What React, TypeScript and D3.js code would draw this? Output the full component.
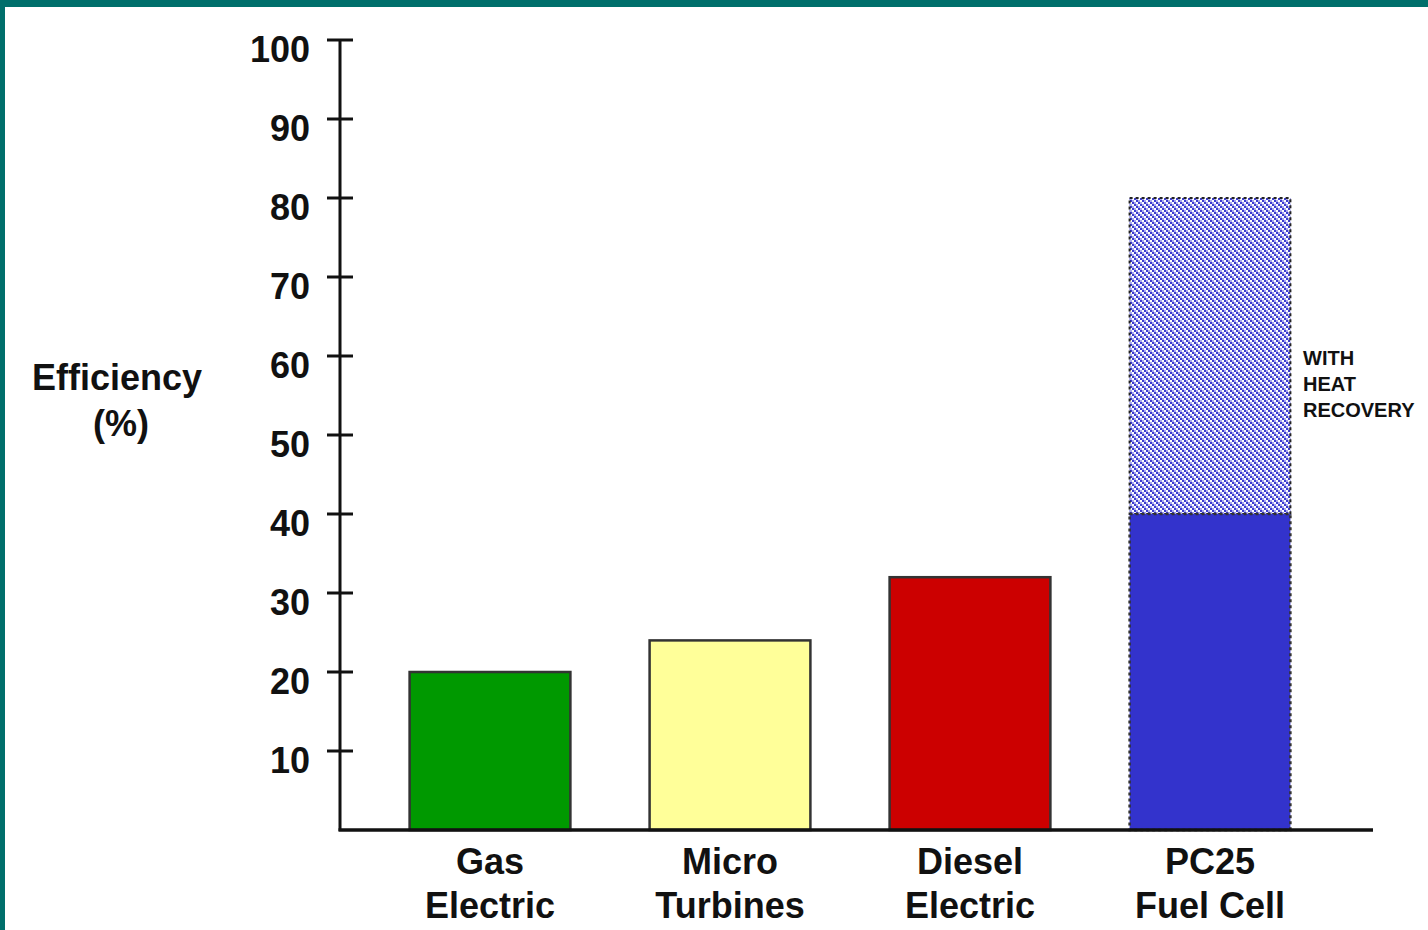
import React from "react";
import * as d3 from "d3";

const categories = ["Gas Electric", "Micro Turbines", "Diesel Electric", "PC25 Fuel Cell"];
const categoryLines = [["Gas", "Electric"], ["Micro", "Turbines"], ["Diesel", "Electric"], ["PC25", "Fuel Cell"]];
const efficiency = [20, 24, 32, 40];
const heatRecovery = [null, null, null, 80];
const barColors = ["#009900", "#ffff99", "#cc0000", "#3333cc"];
const yTicks = [10, 20, 30, 40, 50, 60, 70, 80, 90, 100];
const annotationLines = ["WITH", "HEAT", "RECOVERY"];
const hatchColors = ["#3c3cd0", "#a8a8ec", "#ffffff"];

const W = 1428;
const H = 930;
const FONT = "'Liberation Sans', Arial, sans-serif";

export default function App() {
  const y = d3.scaleLinear().domain([0, 100]).range([830, 40]);
  const x = d3
    .scaleBand<string>()
    .domain(categories)
    .range([370, 1330])
    .paddingInner(0.33)
    .paddingOuter(0.165);
  const axisX = 340;
  const cells: { i: number; j: number }[] = [];
  for (let i = 0; i < 3; i++) for (let j = 0; j < 3; j++) cells.push({ i, j });

  return (
    <svg
      width={W}
      height={H}
      style={{ position: "fixed", left: 0, top: 0, background: "#fff" }}
      fontFamily={FONT}
    >
      <defs>
        <pattern id="hatch" width="6" height="6" patternUnits="userSpaceOnUse">
          {cells.map(({ i, j }) => (
            <rect
              key={`${i}-${j}`}
              x={i * 2}
              y={j * 2}
              width={2}
              height={2}
              fill={hatchColors[(i - j + 3) % 3]}
            />
          ))}
        </pattern>
      </defs>
      <rect x={0} y={0} width={W} height={H} fill="#fff" />
      <rect x={0} y={0} width={W} height={7} fill="#006f6b" />
      <rect x={0} y={0} width={5} height={H} fill="#006f6b" />

      {/* bars */}
      {categories.map((c, i) => {
        const bx = x(c)!;
        const bw = x.bandwidth();
        const hr = heatRecovery[i];
        return (
          <g key={c}>
            {hr != null && (
              <rect
                x={bx}
                y={y(hr)}
                width={bw}
                height={y(efficiency[i]) - y(hr)}
                fill="url(#hatch)"
                stroke="#222"
                strokeWidth={2}
                strokeDasharray="3,3"
              />
            )}
            <rect
              x={bx}
              y={y(efficiency[i])}
              width={bw}
              height={y(0) - y(efficiency[i])}
              fill={barColors[i]}
              stroke="#333"
              strokeWidth={2.5}
              strokeDasharray={hr != null ? "3,3" : undefined}
            />
          </g>
        );
      })}

      {/* y axis */}
      <line x1={axisX} x2={axisX} y1={y(100)} y2={y(0) + 1} stroke="#111" strokeWidth={3} />
      {yTicks.map((t) => (
        <g key={t}>
          <line x1={axisX - 13} x2={axisX + 13} y1={y(t)} y2={y(t)} stroke="#111" strokeWidth={3} />
          <text
            x={310}
            y={y(t) + 9}
            textAnchor="end"
            dominantBaseline="central"
            fontSize={36}
            fontWeight="bold"
            fill="#111"
          >
            {t}
          </text>
        </g>
      ))}
      {/* x axis */}
      <line x1={axisX - 1.5} x2={1373} y1={y(0)} y2={y(0)} stroke="#111" strokeWidth={3.5} />

      {/* category labels */}
      {categories.map((c, i) => (
        <text
          key={c}
          x={x(c)! + x.bandwidth() / 2}
          textAnchor="middle"
          fontSize={36}
          fontWeight="bold"
          fill="#111"
        >
          <tspan x={x(c)! + x.bandwidth() / 2} y={874}>
            {categoryLines[i][0]}
          </tspan>
          <tspan x={x(c)! + x.bandwidth() / 2} y={918}>
            {categoryLines[i][1]}
          </tspan>
        </text>
      ))}

      {/* y label */}
      <text x={117} y={390} textAnchor="middle" fontSize={36} fontWeight="bold" fill="#111">
        Efficiency
      </text>
      <text x={121} y={436} textAnchor="middle" fontSize={36} fontWeight="bold" fill="#111">
        (%)
      </text>

      {/* annotation */}
      {annotationLines.map((l, i) => (
        <text key={l} x={1303} y={365 + i * 26} fontSize={20} fontWeight="bold" fill="#111">
          {l}
        </text>
      ))}
    </svg>
  );
}
